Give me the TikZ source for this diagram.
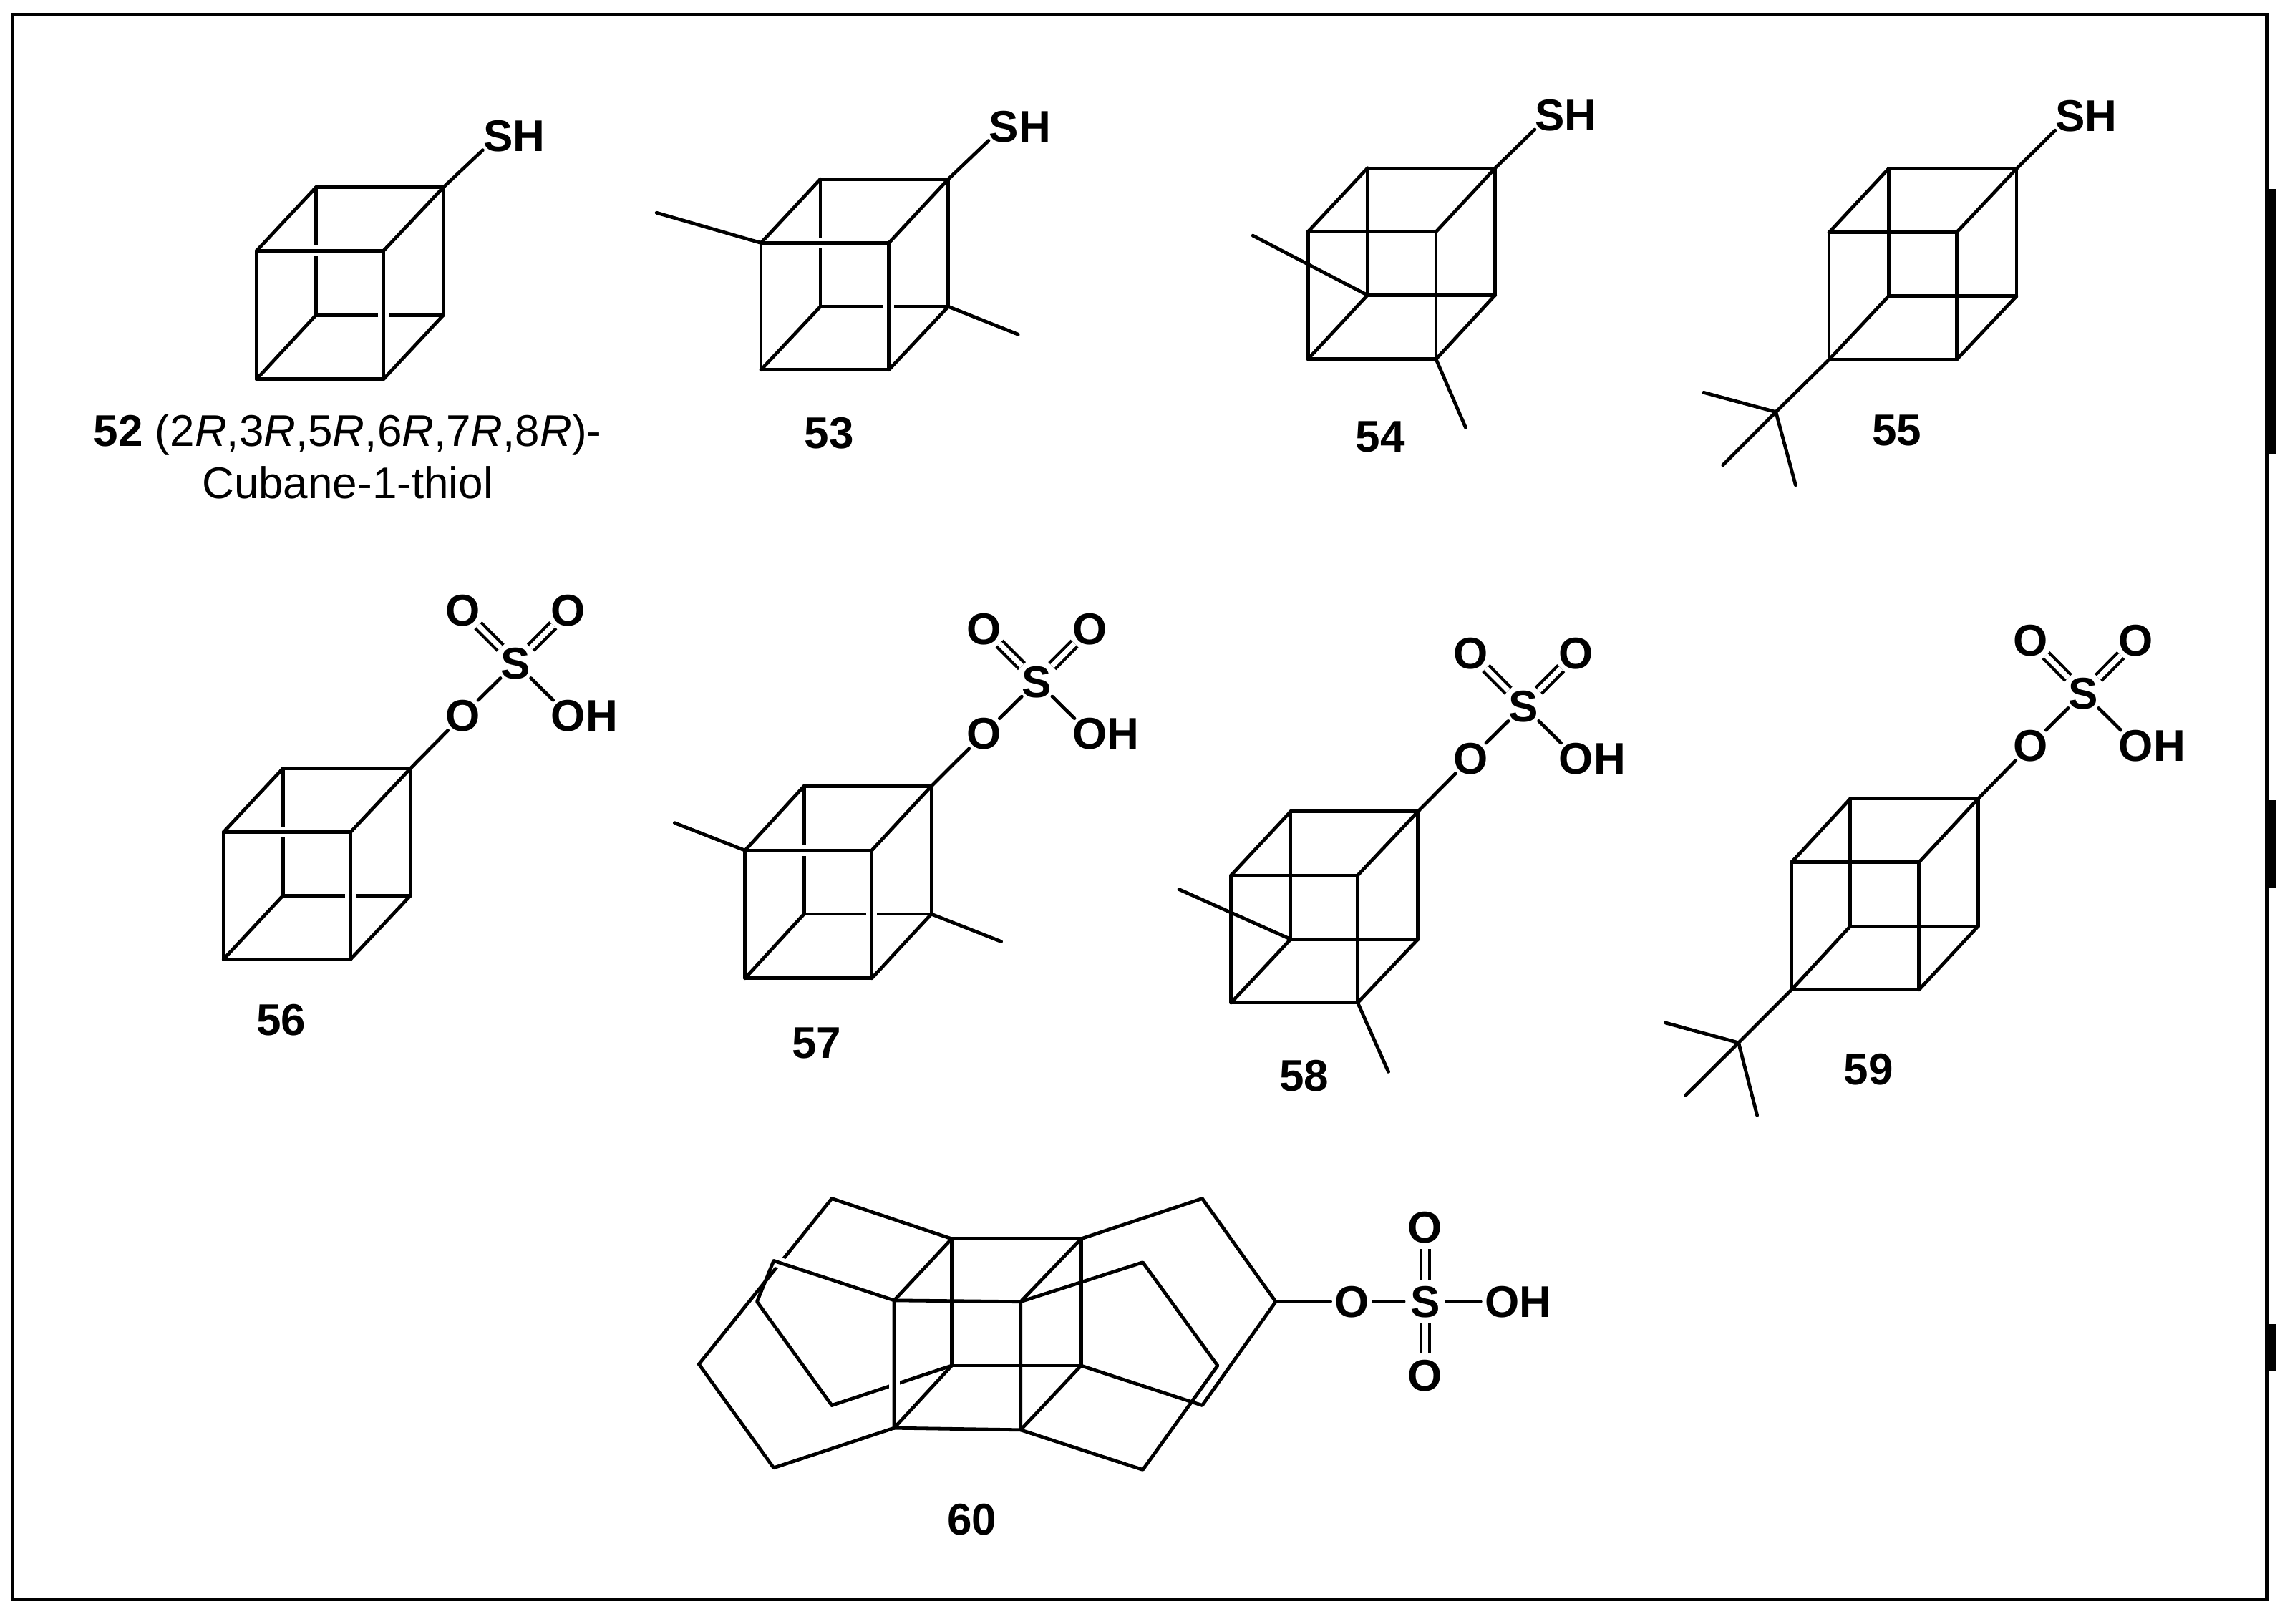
\documentclass[tikz,border=0pt]{standalone}
\usepackage{fontspec}
\setmainfont{Liberation Sans}
\newcommand\atomtxt[1]{\raisebox{-.358em}[0pt][0pt]{\makebox[0pt]{#1}}}
% #1 name, #2 front left, #3 front top, #4 front right, #5 front bottom,
% #6 back left, #7 back top, #8 back right, #9 back bottom
\newcommand\cubeat[9]{%
  \coordinate (#1-ftl) at (#2,#3); \coordinate (#1-ftr) at (#4,#3);
  \coordinate (#1-fbr) at (#4,#5); \coordinate (#1-fbl) at (#2,#5);
  \coordinate (#1-btl) at (#6,#7); \coordinate (#1-btr) at (#8,#7);
  \coordinate (#1-bbr) at (#8,#9); \coordinate (#1-bbl) at (#6,#9);}
\newcommand\hiddenedges[1]{\draw[bond] (#1-btl) -- (#1-bbl) -- (#1-bbr);}
\newcommand\crossgaps[1]{\draw[halo] (#1-ftl) -- (#1-ftr) -- (#1-fbr);}
\newcommand\frontedges[1]{%
  \draw[bond] (#1-ftl) -- (#1-ftr) -- (#1-fbr) -- (#1-fbl) -- cycle;
  \draw[bond] (#1-btl) -- (#1-btr) -- (#1-bbr);
  \draw[bond] (#1-btl) -- (#1-ftl);
  \draw[bond] (#1-btr) -- (#1-ftr);
  \draw[bond] (#1-bbr) -- (#1-fbr);
  \draw[bond] (#1-bbl) -- (#1-fbl);}
% sulfate group: #1 name, #2 and #3 position of S
\newcommand\sulfate[3]{%
  \node[atom] (#1-s) at (#2,#3) {\atomtxt{S}};
  \node[atom] (#1-o) at (#2-36,#3+35.6) {\atomtxt{O}};
  \node[atom] (#1-oh) at (#2+36,#3+35.6) {\atomtxt{O\rlap{H}}};
  \node[atom] (#1-oa) at (#2-36,#3-36.2) {\atomtxt{O}};
  \node[atom] (#1-ob) at (#2+36,#3-36.2) {\atomtxt{O}};
  \draw[bond] (#1-btr) -- (#1-o);
  \draw[bond] (#1-o) -- (#1-s);
  \draw[bond] (#1-s) -- (#1-oh);
  \draw[dbl] (#1-s) -- (#1-oa);
  \draw[dbl] (#1-s) -- (#1-ob);}
\tikzset{
  bond/.style={draw=black,line width=2.4bp,line cap=round,line join=round},
  halo/.style={draw=white,line width=7.5bp,line cap=butt,line join=miter},
  dbl/.style={draw=black,line width=2.1bp,double=white,double distance=3.6bp,line cap=butt},
  atom/.style={circle,inner sep=0pt,minimum size=29.6bp,font=\fontsize{31bp}{36.6bp}\selectfont\bfseries},
  lbl/.style={inner sep=0pt,align=center,font=\fontsize{31bp}{36.6bp}\selectfont},
  numlbl/.style={inner sep=0pt,font=\fontsize{31bp}{36.6bp}\selectfont\bfseries},
}
\begin{document}
\begin{tikzpicture}[x=1.0223bp,y=-1.0223bp]
\useasboundingbox (0,0) rectangle (1568,1109.7);
\fill[white] (0,0) rectangle (1568,1109.7);
% frame and the marks on its right side
\draw[black,line width=2.4bp,line join=miter] (8.3,10) rectangle (1548.5,1093);
\fill[black] (1548,129) rectangle (1555,310);
\fill[black] (1548,547) rectangle (1555,607);
\fill[black] (1548,905) rectangle (1555,937);

% 52
\cubeat{m52}{175.3}{171.4}{262}{259.1}{215.9}{128}{302.9}{215.3}
\hiddenedges{m52}\crossgaps{m52}\frontedges{m52}
\node[atom] (m52-sh) at (340.5,92.5) {\atomtxt{S\rlap{H}}};
\draw[bond] (m52-btr) -- (m52-sh);
\node[lbl] (l52) at (237.5,312) {\textbf{52} (2\textit{R},3\textit{R},5\textit{R},6\textit{R},7\textit{R},8\textit{R})-\\Cubane-1-thiol};

% 53
\cubeat{m53}{519.9}{166}{607.3}{252.7}{560.5}{122.4}{647.9}{209.5}
\hiddenedges{m53}\crossgaps{m53}\frontedges{m53}
\node[atom] (m53-sh) at (686,86) {\atomtxt{S\rlap{H}}};
\draw[bond] (m53-btr) -- (m53-sh);
\coordinate (m53-a) at (448.6,145.4);
\coordinate (m53-b) at (695.6,228.5);
\draw[bond] (m53-ftl) -- (m53-a);
\draw[bond] (m53-bbr) -- (m53-b);
\node[numlbl] (l53) at (566.5,296) {53};

% 54
\cubeat{m54}{893.6}{158.4}{981.1}{245.4}{934.3}{114.9}{1021.5}{201.7}
\hiddenedges{m54}\frontedges{m54}
\node[atom] (m54-sh) at (1059,78.3) {\atomtxt{S\rlap{H}}};
\draw[bond] (m54-btr) -- (m54-sh);
\coordinate (m54-a) at (856,161);
\coordinate (m54-b) at (1001.4,292.2);
\draw[bond] (m54-bbl) -- (m54-a);
\draw[bond] (m54-fbr) -- (m54-b);
\node[numlbl] (l54) at (943,298.5) {54};

% 55
\cubeat{m55}{1249.6}{158.9}{1336.7}{245.8}{1290.3}{115.3}{1377.7}{202.4}
\hiddenedges{m55}\frontedges{m55}
\node[atom] (m55-sh) at (1414.5,78.8) {\atomtxt{S\rlap{H}}};
\draw[bond] (m55-btr) -- (m55-sh);
\coordinate (m55-c) at (1213.3,281.5);
\coordinate (m55-a) at (1164,268.2);
\coordinate (m55-b) at (1177.1,317.8);
\coordinate (m55-d) at (1226.8,331.5);
\draw[bond] (m55-fbl) -- (m55-c);
\draw[bond] (m55-c) -- (m55-a);
\draw[bond] (m55-c) -- (m55-b);
\draw[bond] (m55-c) -- (m55-d);
\node[numlbl] (l55) at (1296,294) {55};

% 56
\cubeat{m56}{152.7}{568.6}{239.5}{655.5}{193.4}{525}{280.5}{611.9}
\hiddenedges{m56}\crossgaps{m56}\frontedges{m56}
\sulfate{m56}{352.3}{453.1}
\node[numlbl] (l56) at (192,697) {56};

% 57
\cubeat{m57}{509}{581.1}{595.6}{668.5}{549.3}{537.2}{636.3}{624.6}
\hiddenedges{m57}\crossgaps{m57}\frontedges{m57}
\sulfate{m57}{708.5}{465.6}
\coordinate (m57-a) at (460.9,562.3);
\coordinate (m57-b) at (684,643.4);
\draw[bond] (m57-ftl) -- (m57-a);
\draw[bond] (m57-bbr) -- (m57-b);
\node[numlbl] (l57) at (558,713) {57};

% 58
\cubeat{m58}{841.1}{598.1}{927.6}{685.2}{881.8}{554.5}{968.8}{641.8}
\hiddenedges{m58}\frontedges{m58}
\sulfate{m58}{1040.9}{482.4}
\coordinate (m58-a) at (805.5,607.7);
\coordinate (m58-b) at (948.6,732.4);
\draw[bond] (m58-bbl) -- (m58-a);
\draw[bond] (m58-fbr) -- (m58-b);
\node[numlbl] (l58) at (891,735) {58};

% 59
\cubeat{m59}{1224}{589.2}{1311.1}{676.3}{1264.2}{545.8}{1351.5}{632.9}
\hiddenedges{m59}\frontedges{m59}
\sulfate{m59}{1423.4}{473.6}
\coordinate (m59-c) at (1187.8,712.5);
\coordinate (m59-a) at (1137.9,698.9);
\coordinate (m59-b) at (1151.6,748.5);
\coordinate (m59-d) at (1200.5,762.1);
\draw[bond] (m59-fbl) -- (m59-c);
\draw[bond] (m59-c) -- (m59-a);
\draw[bond] (m59-c) -- (m59-b);
\draw[bond] (m59-c) -- (m59-d);
\node[numlbl] (l59) at (1276.5,731) {59};

% 60
\coordinate (b-tl) at (650.2,846.5);
\coordinate (b-tr) at (738.6,846.5);
\coordinate (b-br) at (738.6,933.2);
\coordinate (b-bl) at (650.2,933.2);
\coordinate (f-tl) at (610.9,888.6);
\coordinate (f-tr) at (697.3,889.5);
\coordinate (f-br) at (697.3,977.1);
\coordinate (f-bl) at (610.9,975.8);
\coordinate (r-a) at (568.3,819);
\coordinate (r-b) at (477.5,932.2);
\coordinate (r-c) at (528.6,1003);
\coordinate (r-d) at (528.6,861.5);
\coordinate (r-e) at (517.2,889.5);
\coordinate (r-f) at (568.3,960.3);
\coordinate (r-g) at (821.4,819);
\coordinate (r-h) at (871.6,889.5);
\coordinate (r-i) at (821.4,960.3);
\coordinate (r-j) at (780.8,862.6);
\coordinate (r-k) at (831.9,933.2);
\coordinate (r-l) at (780.8,1004.3);
% strands that pass behind others
\draw[bond] (r-a) -- (r-b);
\draw[halo] (f-tl) -- (r-d);
\draw[bond] (b-bl) -- (r-f);
\draw[halo] (f-tl) -- (f-bl);
% everything else
\draw[bond] (b-tl) -- (b-tr) -- (b-br) -- (b-bl) -- cycle;
\draw[bond] (f-tl) -- (f-tr) -- (f-br) -- (f-bl) -- cycle;
\draw[bond] (b-tl) -- (f-tl);
\draw[bond] (b-tr) -- (f-tr);
\draw[bond] (b-br) -- (f-br);
\draw[bond] (b-bl) -- (f-bl);
\draw[bond] (b-tl) -- (r-a);
\draw[bond] (r-b) -- (r-c) -- (f-bl);
\draw[bond] (f-tl) -- (r-d) -- (r-e) -- (r-f);
\draw[bond] (b-tr) -- (r-g) -- (r-h) -- (r-i) -- (b-br);
\draw[bond] (f-tr) -- (r-j) -- (r-k) -- (r-l) -- (f-br);
\node[atom] (m60-o) at (923.6,889.5) {\atomtxt{O}};
\node[atom] (m60-s) at (973.8,889.5) {\atomtxt{S}};
\node[atom] (m60-oh) at (1026.2,889.5) {\atomtxt{O\rlap{H}}};
\node[atom] (m60-oa) at (973.8,838.6) {\atomtxt{O}};
\node[atom] (m60-ob) at (973.8,939.7) {\atomtxt{O}};
\draw[bond] (r-h) -- (m60-o);
\draw[bond] (m60-o) -- (m60-s);
\draw[bond] (m60-s) -- (m60-oh);
\draw[dbl] (m60-s) -- (m60-oa);
\draw[dbl] (m60-s) -- (m60-ob);
\node[numlbl] (l60) at (664,1038.5) {60};
\end{tikzpicture}
\end{document}
